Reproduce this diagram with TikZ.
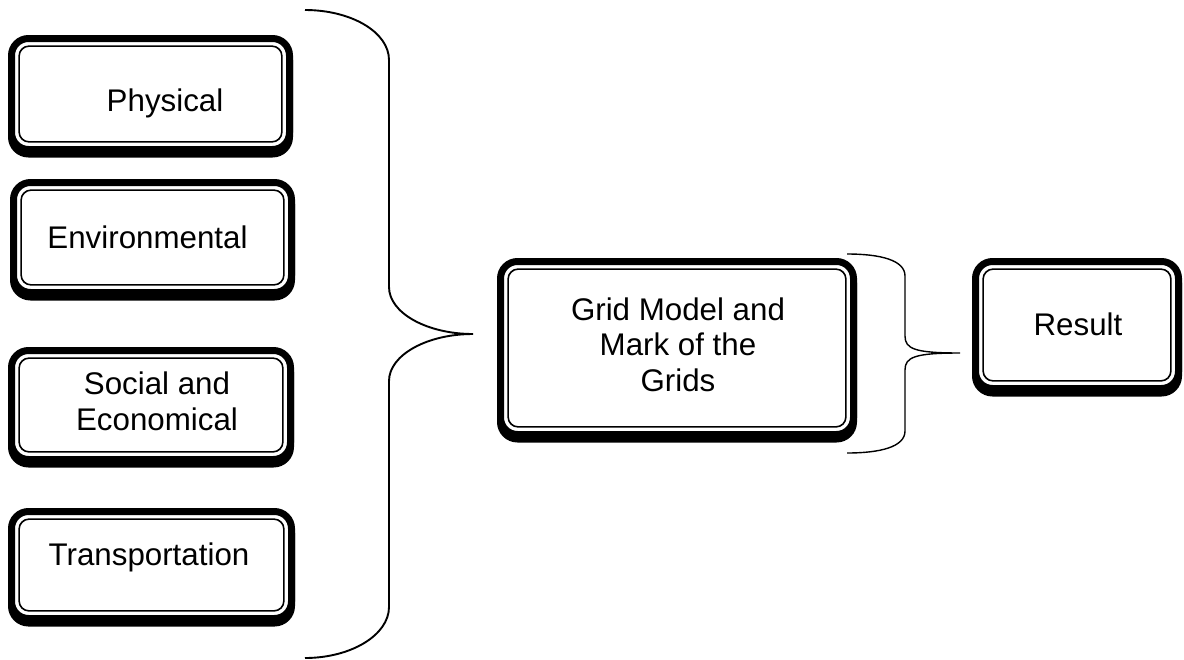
\documentclass[tikz,border=0pt]{standalone}
\usepackage{fontspec}
\setmainfont{Liberation Sans}
\begin{document}
\begin{tikzpicture}[x=1pt,y=-1pt,
  dbox/.style={draw, fill=white, line width=7pt, rounded corners=17pt, inner sep=0pt, outer sep=0pt,
    preaction={draw, line width=7pt, transform canvas={yshift=-4.5pt}}},
  innerline/.style={line width=1.6pt, rounded corners=10pt},
  lbl/.style={font=\fontsize{31.3}{35.5}\selectfont, align=center, anchor=base, inner sep=0pt},
  bracebig/.style={line width=1.9pt},
  bracesmall/.style={line width=1.4pt}]
\useasboundingbox (0,0) rectangle (1184,659);

% boxes: thick outer frame with a heavier lower edge
\node[dbox, minimum width=278, minimum height=111] (phys)  at (150.5,94) {};
\node[dbox, minimum width=278, minimum height=110] (env)   at (152.5,237.5) {};
\node[dbox, minimum width=279, minimum height=109] (soc)   at (151,405) {};
\node[dbox, minimum width=280, minimum height=107] (trans) at (151.5,565) {};
\node[dbox, minimum width=353, minimum height=173] (grid)  at (677,348) {};
\node[dbox, minimum width=203, minimum height=127] (res)   at (1077,325) {};

% thin inner frame of each box
\foreach \b in {phys,env,soc,trans,grid,res}
  \draw[innerline] ([shift={(7.6,7.6)}]\b.north west) rectangle ([shift={(-7.6,-7.6)}]\b.south east);

% labels (anchored at the baseline of their last line)
\node[lbl] (tphys)  at (165,111) {Physical};
\node[lbl] (tenv)   at (147.5,248) {Environmental};
\node[lbl] (tsoc)   at (157,430) {Social and\\Economical};
\node[lbl] (ttrans) at (149,565) {Transportation};
\node[lbl] (tgrid)  at (678,391) {Grid Model and\\Mark of the\\Grids};
\node[lbl] (tres)   at (1078,335) {Result};

% large brace gathering the four factors
\coordinate (btop) at (305,10);
\coordinate (btip) at (473,334);
\coordinate (bbot) at (305,658);
\draw[bracebig] (btop) .. controls (351,10) and (389,32) .. (389,60)
  -- (389,287) .. controls (389,313) and (427,334) .. (btip)
  .. controls (427,334) and (389,355) .. (389,381)
  -- (389,607) .. controls (389,635) and (351,658) .. (bbot);

% small brace towards the result
\coordinate (stop) at (847,254);
\coordinate (stip) at (960,353);
\coordinate (sbot) at (847,453);
\draw[bracesmall] (stop) .. controls (880,254) and (905,260) .. (905,276)
  -- (905,336) .. controls (905,349) and (915,353) .. (stip)
  .. controls (915,353) and (905,357) .. (905,370)
  -- (905,431) .. controls (905,447) and (880,453) .. (sbot);
\end{tikzpicture}
\end{document}
